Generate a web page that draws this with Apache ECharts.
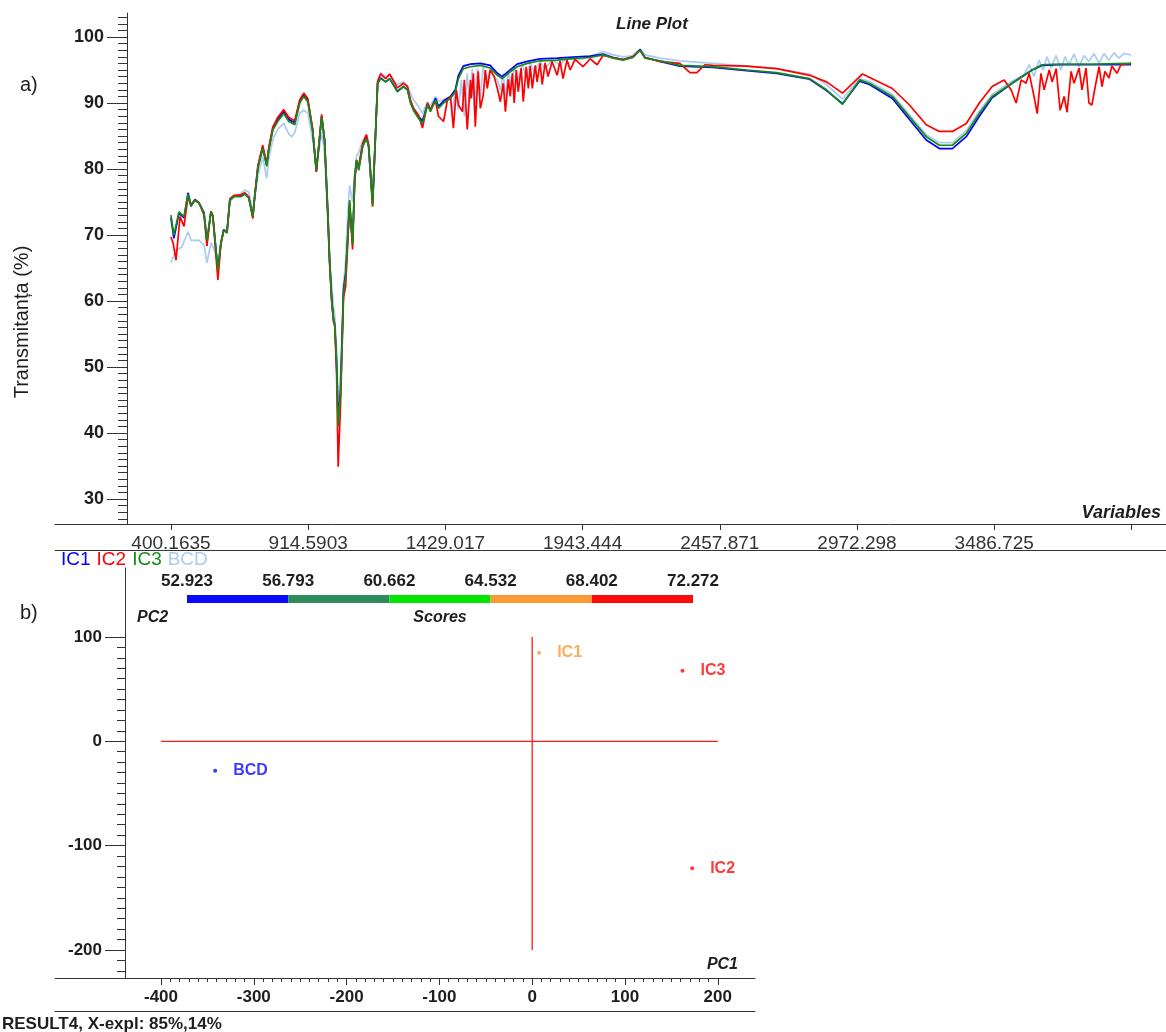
<!DOCTYPE html>
<html>
<head>
<meta charset="utf-8">
<script src="https://cdn.jsdelivr.net/npm/echarts@6/dist/echarts.min.js"></script>
<style>
  html, body { margin: 0; padding: 0; background: #fff; }
  #chart { width: 1166px; height: 1032px; }
</style>
</head>
<body>
<div id="chart"></div>
<script>
// ---------- a) FTIR spectra (transmittance, %) ----------
// shared wavenumber grid (cm-1) for IC1 and IC3
const wavenumbers = [400,411,430,449,464,475,490,505,524,535,550,557,576,587,598,610,621,636,662,677,
  692,707,714,726,744,759,767,782,800,823,842,864,883,898,913,931,945,954,965,976,
  988,995,1003,1010,1014,1021,1027,1036,1047,1055,1062,1070,1081,1089,1096,1104,1119,1133,1141,1156,
  1163,1175,1186,1205,1220,1249,1272,1287,1298,1309,1328,1343,1362,1373,1392,1403,1422,1448,1466,1478,
  1496,1523,1560,1597,1624,1642,1665,1698,1736,1784,1848,1923,1972,2020,2058,2095,2132,2159,2177,2233,
  2308,2432,2559,2671,2795,2858,2918,2982,3019,3105,3169,3232,3281,3330,3382,3431,3479,3554,3629,3666,
  3730,3853,4000];

const ic1 = [72.6,69.5,73.3,72.6,76.4,74.5,75.4,74.9,73.4,69.0,73.6,72.9,64.6,68.7,70.8,70.4,75.4,75.9,75.9,76.3,
  75.6,72.7,75.8,80.3,83.3,80.6,83.1,86.1,87.5,88.7,87.5,87.0,90.3,91.2,90.4,86.0,79.6,83.3,88.0,84.4,
  73.6,66.0,59.8,56.8,56.4,50.5,42.0,46.5,61.8,64.2,69.0,74.5,68.8,78.6,81.3,80.0,83.6,84.8,83.5,74.8,
  81.5,93.0,93.8,93.2,93.7,91.8,92.5,92.0,90.2,89.2,88.0,87.3,89.8,88.9,90.7,89.5,90.3,91.0,92.0,94.2,
  95.6,95.9,96.0,95.7,94.5,94.0,94.8,95.9,96.3,96.7,96.8,97.0,97.1,97.4,96.9,96.6,97.0,98.1,96.9,96.3,
  95.6,95.4,94.9,94.5,93.6,91.9,89.9,93.3,92.8,90.7,87.5,84.4,83.1,83.1,84.9,88.0,90.8,93.0,95.0,95.7,
  95.8,95.8,95.8];

const ic3 = [73.0,70.0,73.5,72.8,76.2,74.3,75.3,74.8,73.3,69.2,73.5,72.8,64.7,68.8,70.8,70.3,75.3,75.8,75.8,76.2,
  75.6,72.8,75.8,80.1,83.1,80.4,82.9,85.9,87.2,88.4,87.2,86.7,90.0,91.0,90.2,85.9,79.8,83.4,87.9,84.4,
  73.8,66.2,60.2,57.1,56.7,51.0,41.0,46.0,61.2,63.7,69.2,75.3,68.5,78.8,81.4,79.8,83.4,84.6,83.4,74.5,
  81.4,93.0,93.7,93.2,93.7,91.7,92.5,92.0,90.0,88.9,87.7,86.9,89.7,88.7,90.5,89.2,90.0,90.7,91.7,93.7,
  95.2,95.5,95.7,95.3,94.2,93.7,94.5,95.5,96.0,96.4,96.5,96.8,96.9,97.3,96.8,96.5,96.9,98.0,96.8,96.4,
  95.7,95.5,95.0,94.6,93.7,92.0,89.8,93.5,93.0,91.0,87.9,84.9,83.6,83.6,85.4,88.4,91.0,93.0,95.0,95.8,
  95.9,95.9,96.0];

// IC2 has the sharp water-vapour bands, so it carries its own grid
const ic2Wavenumbers = [400,408,419,434,449,464,475,490,505,524,535,550,557,576,587,598,610,621,636,662,
  677,692,707,714,726,744,759,767,782,800,823,842,864,883,898,913,931,945,954,965,
  976,988,995,1003,1010,1014,1021,1027,1036,1047,1055,1062,1070,1081,1089,1096,1104,1119,1133,1141,
  1156,1163,1175,1186,1205,1220,1249,1272,1287,1298,1309,1328,1343,1362,1373,1392,1403,1422,1437,1448,
  1459,1470,1478,1493,1500,1511,1523,1526,1534,1541,1552,1560,1571,1579,1586,1597,1612,1624,1635,1646,
  1654,1665,1672,1680,1687,1695,1702,1713,1721,1732,1740,1747,1755,1766,1773,1784,1792,1803,1814,1829,
  1848,1859,1870,1885,1897,1915,1945,1972,1998,2020,2058,2095,2132,2159,2177,2233,2308,2346,2372,2402,
  2432,2559,2671,2795,2858,2918,2993,3105,3169,3232,3281,3330,3382,3431,3479,3524,3550,3569,3588,3606,
  3618,3636,3648,3662,3674,3693,3704,3719,3734,3749,3760,3775,3786,3805,3816,3831,3842,3853,3868,3880,
  3891,3902,3917,3928,3947,3962,4000];

const ic2 = [69.7,68.8,66.2,72.8,71.3,75.8,74.5,75.3,74.9,73.0,68.3,73.6,72.9,63.2,68.5,70.8,70.3,75.5,76.0,76.1,
  76.4,75.8,72.5,76.0,80.5,83.6,80.8,83.3,86.4,87.8,89.0,87.8,87.3,90.5,91.5,90.7,86.2,79.6,83.4,88.3,
  84.4,73.0,65.5,59.7,57.0,56.2,49.0,34.9,44.5,60.5,62.2,68.0,75.0,67.8,78.2,81.0,80.6,83.9,85.2,83.7,
  74.3,81.0,93.3,94.4,93.7,94.4,92.3,93.0,92.5,90.5,89.2,88.2,86.2,90.0,89.0,90.3,88.0,87.2,90.5,91.0,
  86.2,92.0,89.7,88.7,93.5,86.0,93.5,90.7,94.5,86.4,94.8,89.2,91.2,95.0,92.2,95.0,94.0,92.2,90.2,93.0,
  88.7,93.6,91.0,94.5,90.0,95.0,91.7,95.3,90.2,95.5,92.2,95.6,92.2,95.7,93.2,96.0,92.8,96.1,94.0,96.3,
  94.2,96.4,93.7,96.5,95.0,96.6,95.5,96.7,95.8,97.2,96.9,96.6,97.0,98.0,96.9,96.3,96.0,94.6,94.6,95.8,
  95.7,95.6,95.2,94.2,93.2,91.5,94.4,92.2,89.7,86.7,85.7,85.7,86.9,90.0,92.5,93.5,92.0,90.0,93.5,93.0,
  94.5,91.0,88.4,94.5,92.0,95.0,93.2,95.2,88.9,91.0,88.6,94.8,93.0,95.3,92.0,95.3,90.0,89.7,93.0,95.5,
  92.5,94.8,93.8,95.6,94.5,95.8,96.0];

// BCD (beta-cyclodextrin) reference spectrum
const bcdWavenumbers = [400,419,441,464,475,505,524,535,550,565,576,587,598,610,621,636,662,677,692,707,
  714,726,744,759,767,782,800,823,842,853,864,883,898,913,931,945,954,965,976,988,
  995,1003,1010,1014,1021,1027,1036,1047,1055,1062,1070,1081,1089,1096,1104,1119,1133,1141,1156,1163,
  1175,1186,1205,1220,1249,1272,1287,1298,1309,1328,1343,1362,1373,1392,1403,1422,1448,1455,1466,1478,
  1489,1500,1511,1519,1530,1538,1549,1560,1571,1582,1597,1612,1624,1635,1646,1654,1665,1676,1687,1702,
  1717,1732,1747,1762,1784,1803,1829,1859,1885,1923,1972,2020,2058,2095,2132,2159,2177,2233,2308,2432,
  2559,2671,2795,2858,2918,2982,3019,3105,3169,3232,3281,3330,3382,3431,3479,3554,3599,3618,3636,3655,
  3670,3685,3700,3719,3737,3752,3767,3786,3805,3823,3842,3861,3880,3898,3917,3936,3954,3973,4000];

const bcd = [65.8,67.7,68.2,70.5,69.2,69.2,68.5,65.8,68.8,67.5,65.5,68.6,70.8,70.5,75.0,75.8,76.3,76.8,76.5,73.5,
  75.5,79.0,81.8,78.6,81.5,84.5,86.0,86.9,85.3,84.9,85.5,88.5,88.9,88.5,84.5,80.5,82.5,85.6,82.5,72.0,
  66.0,62.5,59.0,58.0,52.5,45.0,49.0,62.5,66.0,72.5,77.5,75.0,79.5,82.0,82.5,84.3,85.2,84.0,76.5,82.0,
  93.5,94.6,94.0,94.2,92.8,93.2,92.5,91.5,90.5,89.5,88.4,90.2,89.5,91.0,90.3,90.5,91.0,88.5,92.0,89.0,
  93.5,88.0,94.5,90.0,95.2,88.5,95.2,91.0,95.5,93.0,95.2,94.0,93.5,92.0,94.5,91.0,94.8,92.5,95.5,93.5,
  95.8,94.0,96.1,94.8,96.3,95.2,96.5,95.8,96.8,96.5,97.0,97.8,97.3,97.0,97.2,98.2,97.3,96.8,96.4,96.0,
  95.6,95.2,94.4,92.8,90.6,93.7,93.3,91.3,88.2,85.2,84.0,84.0,85.8,88.8,91.3,93.3,94.3,95.8,94.0,96.5,
  95.0,97.0,95.3,97.2,95.0,97.0,95.8,97.4,95.5,97.2,96.3,97.5,96.0,97.5,96.5,97.6,96.8,97.5,97.3];

// spectrum axis ticks
const xTickLabels = ['400.1635','914.5903','1429.017','1943.444','2457.871','2972.298','3486.725'];
const xTickValues = xTickLabels.map(Number).concat([4001.153]);
const yMajorTicks = [30, 40, 50, 60, 70, 80, 90, 100];
const yMinorTicks = [];
for (let v = 27; v <= 103; v++) if (v % 10) yMinorTicks.push(v);

// ---------- b) PCA scores ----------
const sampleNames = ['IC1', 'IC2', 'IC3', 'BCD'];
const pc1Scores = [7.5, 172.4, 162.0, -341.6];
const pc2Scores = [84.9, -121.7, 67.7, -28.2];
const sampleScores = [66.3, 72.272, 70.1, 52.923];

// score colour scale
const scoreEdges = [52.923, 56.793, 60.662, 64.532, 68.402, 72.272];
const scoreColors = ['#0a0aff', '#2e8b5c', '#00e600', '#fa9a35', '#ff0a0a'];

// reference cross through the origin
const zeroLineH = [[-400, 0], [200, 0]];
const zeroLineV = [[0, 100], [0, -200]];

const pc1Ticks = [-400, -300, -200, -100, 0, 100, 200];
const pc2Ticks = [-200, -100, 0, 100];
const pc1Minor = [];
for (let v = -390; v <= 190; v += 10) if (v % 100) pc1Minor.push(v);
const pc2Minor = [];
for (let v = -220; v <= 90; v += 10) if (v % 100) pc2Minor.push(v);

// ---------- drawing ----------
const FONT = '"Liberation Sans", Arial, Helvetica, sans-serif';
const INK = '#1e1e1e';
const zip = (xs, ys) => xs.map((x, i) => [x, ys[i]]);

function scoreColor(v) {
  for (let i = 0; i < scoreColors.length - 1; i++) {
    if (v < scoreEdges[i + 1]) return scoreColors[i];
  }
  return scoreColors[scoreColors.length - 1];
}

const spectra = [
  { name: 'BCD', x: bcdWavenumbers, y: bcd, color: '#aacbf2' },
  { name: 'IC1', x: wavenumbers, y: ic1, color: '#0000ff' },
  { name: 'IC2', x: ic2Wavenumbers, y: ic2, color: '#ff0000' },
  { name: 'IC3', x: wavenumbers, y: ic3, color: '#168a16' }
];
const legendColors = { IC1: '#0000ff', IC2: '#ff0000', IC3: '#168a16', BCD: '#aacbf2' };

const axisLineStyle = { color: '#333', width: 1 };
const frameLine = { show: true, onZero: false, lineStyle: axisLineStyle };
const noLine = { show: false, onZero: false };
const hidden = { show: false };

const chart = echarts.init(document.getElementById('chart'));

chart.setOption({
  animation: false,
  backgroundColor: '#ffffff',
  textStyle: { fontFamily: FONT },
  grid: [
    { left: 55, right: 0, top: 13, bottom: 508 },
    { left: 55, right: 411, top: 568, bottom: 54 },
    { left: 187, right: 473, top: 595, height: 8 }
  ],
  legend: {
    left: 55, top: 550, padding: 0,
    itemWidth: 0, itemHeight: 0, itemGap: 0,
    selectedMode: false,
    textStyle: { fontSize: 19, fontFamily: FONT },
    data: ['IC1', 'IC2', 'IC3', 'BCD'].map(n => ({ name: n, textStyle: { color: legendColors[n] } }))
  },
  xAxis: [
    { // spectrum wavenumber axis
      gridIndex: 0, type: 'value', position: 'bottom', min: -34.77, max: 4130.9,
      axisLine: frameLine,
      axisTick: { length: 6, customValues: xTickValues, lineStyle: axisLineStyle },
      axisLabel: {
        customValues: xTickValues.slice(0, xTickLabels.length),
        formatter: v => xTickLabels[xTickValues.indexOf(v)] ?? '',
        fontSize: 19, color: '#333', margin: 10, fontFamily: FONT
      },
      splitLine: hidden
    },
    { // rule under the wavenumber labels
      gridIndex: 0, type: 'value', position: 'bottom', offset: 26, min: -34.77, max: 4130.9,
      axisLine: frameLine, axisTick: hidden, axisLabel: hidden, splitLine: hidden
    },
    { // PC1 axis
      gridIndex: 1, type: 'value', position: 'bottom', min: -514.2, max: 240.1,
      axisLine: frameLine,
      axisTick: { length: 7, customValues: pc1Ticks, lineStyle: axisLineStyle },
      axisLabel: { customValues: pc1Ticks, fontSize: 17, fontWeight: 'bold', color: INK, margin: 11, fontFamily: FONT },
      splitLine: hidden
    },
    { // PC1 minor ticks
      gridIndex: 1, type: 'value', position: 'bottom', min: -514.2, max: 240.1,
      axisLine: noLine,
      axisTick: { length: 4, customValues: pc1Minor, lineStyle: axisLineStyle },
      axisLabel: hidden, splitLine: hidden
    },
    { // rule under the PC1 labels
      gridIndex: 1, type: 'value', position: 'bottom', offset: 33, min: -514.2, max: 240.1,
      axisLine: frameLine, axisTick: hidden, axisLabel: hidden, splitLine: hidden
    },
    { // score colour scale
      gridIndex: 2, type: 'value', position: 'top', min: scoreEdges[0], max: scoreEdges[scoreEdges.length - 1],
      axisLine: noLine, axisTick: hidden, splitLine: hidden,
      axisLabel: {
        customValues: scoreEdges, formatter: v => v.toFixed(3),
        fontSize: 17, fontWeight: 'bold', color: INK, margin: 5, fontFamily: FONT
      }
    }
  ],
  yAxis: [
    { // transmittance
      gridIndex: 0, type: 'value', position: 'left', offset: -72, min: 26.21, max: 103.64,
      axisLine: frameLine,
      axisTick: { show: true, length: 20, customValues: yMajorTicks, lineStyle: axisLineStyle },
      axisLabel: { customValues: yMajorTicks, fontSize: 18, fontWeight: 'bold', color: INK, margin: 23, fontFamily: FONT },
      splitLine: hidden
    },
    { // transmittance minor ticks
      gridIndex: 0, type: 'value', position: 'left', offset: -72, min: 26.21, max: 103.64,
      axisLine: noLine,
      axisTick: { show: true, length: 9, customValues: yMinorTicks, lineStyle: axisLineStyle },
      axisLabel: hidden, splitLine: hidden
    },
    { // PC2 axis
      gridIndex: 1, type: 'value', position: 'left', offset: -70, min: -226.9, max: 166.1,
      axisLine: frameLine,
      axisTick: { show: true, length: 20, customValues: pc2Ticks, lineStyle: axisLineStyle },
      axisLabel: { customValues: pc2Ticks, fontSize: 17, fontWeight: 'bold', color: INK, margin: 23, fontFamily: FONT },
      splitLine: hidden
    },
    { // PC2 minor ticks
      gridIndex: 1, type: 'value', position: 'left', offset: -70, min: -226.9, max: 166.1,
      axisLine: noLine,
      axisTick: { show: true, length: 8, customValues: pc2Minor, lineStyle: axisLineStyle },
      axisLabel: hidden, splitLine: hidden
    },
    { gridIndex: 2, type: 'value', min: 0, max: 1, show: false }
  ],
  series: [
    ...spectra.map(s => ({
      name: s.name, type: 'line', xAxisIndex: 0, yAxisIndex: 0,
      data: zip(s.x, s.y), showSymbol: false, symbol: 'none',
      color: s.color, lineStyle: { color: s.color, width: 1.7 },
      emphasis: { disabled: true }, silent: true
    })),
    {
      type: 'line', xAxisIndex: 2, yAxisIndex: 2, data: zeroLineH, symbol: 'none',
      lineStyle: { color: '#ff1a1a', width: 1.3 }, silent: true
    },
    {
      type: 'line', xAxisIndex: 2, yAxisIndex: 2, data: zeroLineV, symbol: 'none',
      lineStyle: { color: '#ff1a1a', width: 1.3 }, silent: true
    },
    {
      type: 'scatter', xAxisIndex: 2, yAxisIndex: 2, symbolSize: 4, silent: true,
      data: sampleNames.map((n, i) => {
        const c = scoreColor(sampleScores[i]);
        return {
          name: n, value: [pc1Scores[i], pc2Scores[i]],
          itemStyle: { color: c },
          label: { color: c }
        };
      }),
      label: {
        show: true, position: 'right', distance: 16, formatter: '{b}',
        fontSize: 16, fontWeight: 'bold', fontFamily: FONT
      }
    },
    {
      type: 'custom', xAxisIndex: 5, yAxisIndex: 4, silent: true,
      data: scoreColors.map((c, i) => [scoreEdges[i], scoreEdges[i + 1], i]),
      encode: { x: [0, 1] },
      renderItem: (params, api) => {
        const a = api.coord([api.value(0), 1]);
        const b = api.coord([api.value(1), 0]);
        return {
          type: 'rect',
          shape: { x: a[0], y: a[1], width: b[0] - a[0], height: b[1] - a[1] },
          style: { fill: scoreColors[api.value(2)] }
        };
      }
    }
  ],
  graphic: [
    { type: 'text', x: 22, y: 322, rotation: Math.PI / 2, style: { text: 'Transmitanța (%)', fontSize: 20, fontFamily: FONT, fill: INK, align: 'center', verticalAlign: 'middle' } },
    { type: 'text', x: 652, y: 24, style: { text: 'Line Plot', fontSize: 17, fontWeight: 'bold', fontStyle: 'italic', fontFamily: FONT, fill: INK, align: 'center', verticalAlign: 'middle' } },
    { type: 'text', x: 1161, y: 513, style: { text: 'Variables', fontSize: 18, fontWeight: 'bold', fontStyle: 'italic', fontFamily: FONT, fill: INK, align: 'right', verticalAlign: 'middle' } },
    { type: 'text', x: 20, y: 85, style: { text: 'a)', fontSize: 20, fontFamily: FONT, fill: INK, align: 'left', verticalAlign: 'middle' } },
    { type: 'text', x: 20, y: 613, style: { text: 'b)', fontSize: 20, fontFamily: FONT, fill: INK, align: 'left', verticalAlign: 'middle' } },
    { type: 'text', x: 137, y: 618, style: { text: 'PC2', fontSize: 16, fontWeight: 'bold', fontStyle: 'italic', fontFamily: FONT, fill: INK, align: 'left', verticalAlign: 'middle' } },
    { type: 'text', x: 440, y: 618, style: { text: 'Scores', fontSize: 16, fontWeight: 'bold', fontStyle: 'italic', fontFamily: FONT, fill: INK, align: 'center', verticalAlign: 'middle' } },
    { type: 'text', x: 738, y: 965, style: { text: 'PC1', fontSize: 16, fontWeight: 'bold', fontStyle: 'italic', fontFamily: FONT, fill: INK, align: 'right', verticalAlign: 'middle' } },
    { type: 'text', x: 2, y: 1024, style: { text: 'RESULT4, X-expl: 85%,14%', fontSize: 17, fontWeight: 'bold', fontFamily: FONT, fill: INK, align: 'left', verticalAlign: 'middle' } }
  ]
});
</script>
</body>
</html>
